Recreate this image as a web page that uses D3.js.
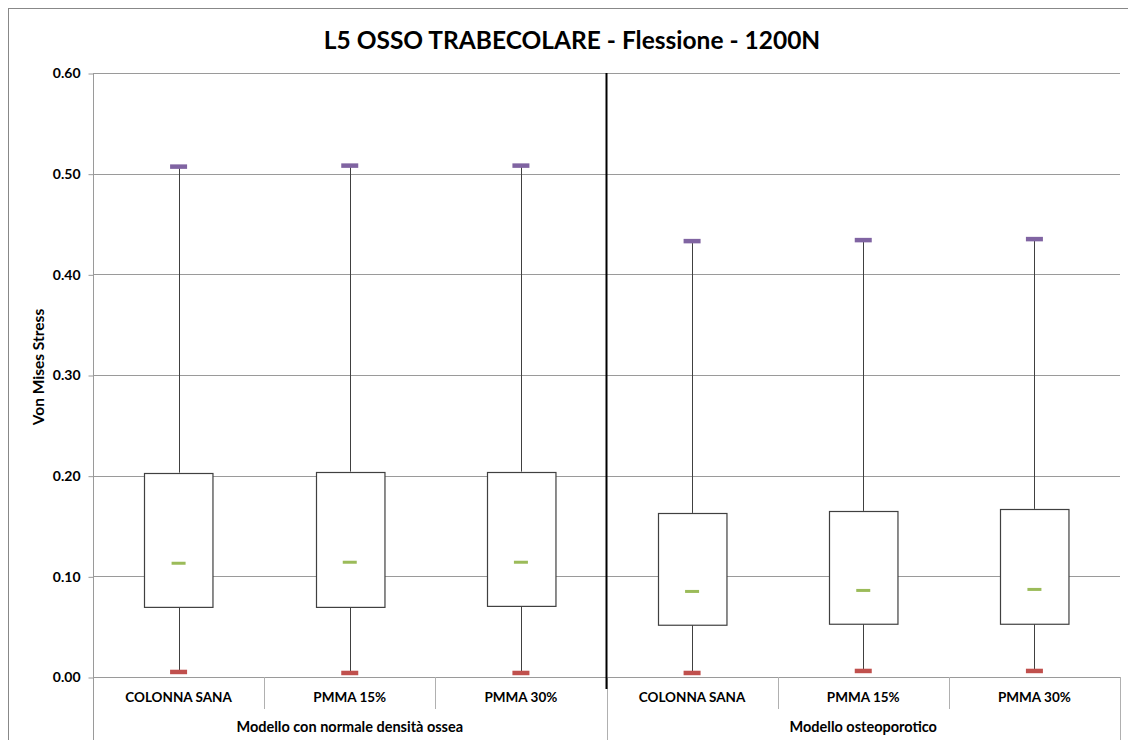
<!DOCTYPE html>
<html>
<head>
<meta charset="utf-8">
<script src="https://d3js.org/d3.v7.min.js"></script>
<style>
  html, body { margin: 0; padding: 0; background: #fff; }
  svg { display: block; }
  text { font-family: Lato, "Open Sans", "Liberation Sans", sans-serif; font-weight: bold; fill: #000; }
</style>
</head>
<body>
<svg id="chart" width="1128" height="740"></svg>
<script>
// ---- data ----
const title = "L5 OSSO TRABECOLARE - Flessione - 1200N";
const yAxisTitle = "Von Mises Stress";
const groups = ["Modello con normale densità ossea", "Modello osteoporotico"];
const categories = ["COLONNA SANA", "PMMA 15%", "PMMA 30%", "COLONNA SANA", "PMMA 15%", "PMMA 30%"];
const groupOf = [0, 0, 0, 1, 1, 1];
const maxValues    = [0.507, 0.508, 0.508, 0.433, 0.434, 0.435];
const q3Values     = [0.203, 0.204, 0.204, 0.163, 0.165, 0.167];
const medianValues = [0.113, 0.114, 0.114, 0.085, 0.086, 0.087];
const q1Values     = [0.070, 0.070, 0.071, 0.052, 0.053, 0.053];
const minValues    = [0.005, 0.004, 0.004, 0.004, 0.006, 0.006];
const yTicks = [0, 0.1, 0.2, 0.3, 0.4, 0.5, 0.6];

// ---- layout ----
const svg = d3.select("#chart");
const pLeft = 93, pRight = 1120, pTop = 73, pBottom = 677;
const idx = d3.range(categories.length);

const x = d3.scaleBand().domain(idx).range([pLeft, pRight]).paddingInner(0).paddingOuter(0);
const y = d3.scaleLinear().domain([0, 0.6]).range([pBottom, pTop]);
const bw = x.bandwidth();
const cx = i => x(i) + bw / 2;

// outer chart border
svg.append("rect").attr("x", 8.5).attr("y", 8.5).attr("width", 1130).attr("height", 740)
  .attr("fill", "none").attr("stroke", "#888").attr("stroke-width", 1);

// title
svg.append("text").attr("x", 572).attr("y", 49).attr("text-anchor", "middle")
  .style("font-size", "24.5px").text(title);

// gridlines
svg.append("g").selectAll("line").data(yTicks.filter(t => t > 0)).join("line")
  .attr("x1", pLeft).attr("x2", pRight)
  .attr("y1", d => Math.round(y(d)) + 0.5).attr("y2", d => Math.round(y(d)) + 0.5)
  .attr("stroke", "#9a9a9a").attr("stroke-width", 1);

// y axis
const yAxis = d3.axisLeft(y).tickValues(yTicks).tickFormat(d3.format(".2f")).tickSizeOuter(0).tickSize(5).tickPadding(8);
const gy = svg.append("g").attr("transform", `translate(${pLeft + 0.5},0.5)`).call(yAxis);
gy.select(".domain").attr("stroke", "#9a9a9a").attr("d", `M0,${pTop}V740`);
gy.selectAll(".tick line").attr("stroke", "#9a9a9a");
gy.selectAll(".tick text").style("font-size", "14px").style("font-family", "Lato, sans-serif").style("font-weight", "bold").attr("fill", "#000");

// y axis title
svg.append("text").attr("transform", `translate(44,367) rotate(-90)`)
  .attr("text-anchor", "middle").style("font-size", "15.5px").text(yAxisTitle);

// x axis line
svg.append("line").attr("x1", pLeft).attr("x2", pRight).attr("y1", pBottom + 0.5).attr("y2", pBottom + 0.5)
  .attr("stroke", "#9a9a9a");

// category separators (short)
svg.append("g").selectAll("line").data([1, 2, 4, 5]).join("line")
  .attr("x1", d => Math.round(x(d)) + 0.5).attr("x2", d => Math.round(x(d)) + 0.5)
  .attr("y1", pBottom).attr("y2", 709).attr("stroke", "#b0b0b0");
// group separators (long)
svg.append("g").selectAll("line").data([3, 6]).join("line")
  .attr("x1", d => Math.round(d === 6 ? pRight : x(d)) + 0.5).attr("x2", d => Math.round(d === 6 ? pRight : x(d)) + 0.5)
  .attr("y1", pBottom).attr("y2", 740).attr("stroke", "#b0b0b0");

// category labels
svg.append("g").selectAll("text").data(idx).join("text")
  .attr("x", cx).attr("y", 702).attr("text-anchor", "middle").style("font-size", "13.5px")
  .text(i => categories[i]);

// group labels
svg.append("g").selectAll("text").data(groups).join("text")
  .attr("x", (d, g) => (x(g * 3) + x(g * 3 + 2) + bw) / 2).attr("y", 732).attr("text-anchor", "middle")
  .style("font-size", "14.5px").text(d => d);

// divider between groups (black)
svg.append("line").attr("x1", x(3)).attr("x2", x(3)).attr("y1", pTop).attr("y2", 689)
  .attr("stroke", "#000").attr("stroke-width", 2);

// whiskers
const boxes = svg.append("g");
boxes.selectAll("line.wlow").data(idx).join("line").attr("class", "wlow")
  .attr("x1", i => Math.round(cx(i)) + 0.5).attr("x2", i => Math.round(cx(i)) + 0.5)
  .attr("y1", i => y(minValues[i])).attr("y2", i => y(q1Values[i]))
  .attr("stroke", "#404040").attr("stroke-width", 1);
boxes.selectAll("line.whigh").data(idx).join("line").attr("class", "whigh")
  .attr("x1", i => Math.round(cx(i)) + 0.5).attr("x2", i => Math.round(cx(i)) + 0.5)
  .attr("y1", i => y(maxValues[i])).attr("y2", i => y(q3Values[i]))
  .attr("stroke", "#404040").attr("stroke-width", 1);

// boxes
const boxW = bw * 0.4;
boxes.selectAll("rect.box").data(idx).join("rect").attr("class", "box")
  .attr("x", i => Math.round(cx(i) - boxW / 2) + 0.5).attr("width", boxW)
  .attr("y", i => Math.round(y(q3Values[i])) + 0.5)
  .attr("height", i => y(q1Values[i]) - y(q3Values[i]))
  .attr("fill", "#fff").attr("stroke", "#404040").attr("stroke-width", 1.2);

// markers
function markers(vals, color, w, h, cls) {
  boxes.selectAll("rect." + cls).data(idx).join("rect").attr("class", cls)
    .attr("x", i => cx(i) - w / 2).attr("width", w)
    .attr("y", i => y(vals[i]) - h / 2).attr("height", h)
    .attr("fill", color);
}
markers(maxValues, "#8064A2", 17, 4.5, "mmax");
markers(minValues, "#C0504D", 17, 4.5, "mmin");
markers(medianValues, "#9BBB59", 14, 3, "mmed");
</script>
</body>
</html>
